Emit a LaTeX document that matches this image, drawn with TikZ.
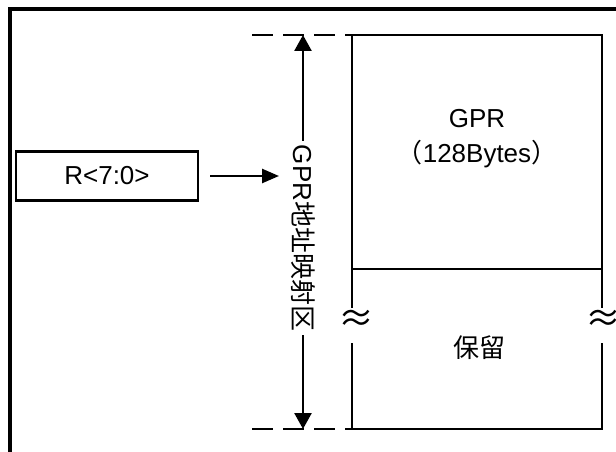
\documentclass[tikz,border=0pt]{standalone}
\usepackage{fontspec}
\setmainfont{Liberation Sans}
\newfontfamily\cjk{Noto Sans CJK SC}
\usepackage{tikz}
\usetikzlibrary{positioning,arrows.meta,calc}
\newcommand{\bigfont}{\fontsize{26}{30}\selectfont}

\begin{document}
\begin{tikzpicture}[x=1pt,y=-1pt,
  frame/.style={line width=3.5pt},
  wall/.style={line width=2.5pt},
  txt/.style={font=\bigfont,inner sep=0pt},
  tip/.style={-{Triangle[length=16pt,width=17pt]}}]
\useasboundingbox (0,0) rectangle (616,452);
\draw[frame] (10,452) -- (10,9) -- (616,9);
% register box and input arrow
\node[wall,draw,minimum width=182pt,minimum height=49pt,txt] (reg) at (107,176) {R<7:0>};
\coordinate (in) at (279,176);
\draw[wall,-{Triangle[length=17pt,width=14pt]}] ([xshift=11pt]reg.east) -- (in);
% mapping range
\coordinate (top) at (303,35);
\coordinate (bot) at (303,429);
\node[txt,rotate=-90,fill=white,inner xsep=4pt] (map) at (303,238) {GPR\cjk 地址映射区};
\draw[wall,tip] (map) -- (top);
\draw[wall,tip] (map) -- (bot);
\foreach \y in {35,429}
  \draw[wall,dash pattern=on 21pt off 10pt] (252,\y) -- (352,\y);
% memory column
\draw[wall] (352,308) -- (352,35) -- (602,35) -- (602,308);
\draw[wall] (352,343) -- (352,429) -- (602,429) -- (602,343);
\draw[wall] (352,269) -- (602,269);
\node[txt,anchor=base] (gpr) at (477,127) {GPR};
\node[txt,anchor=base] (size) at (477,162) {\cjk （\rmfamily 128Bytes\cjk ）};
\node[txt] (rsv) at (479,348) {\cjk 保留};
\foreach \x/\n in {356/cutl,603/cutr}
  \node[txt,font=\fontsize{36}{40}\selectfont] (\n) at (\x,321) {\cjk ≈};
\end{tikzpicture}
\end{document}
